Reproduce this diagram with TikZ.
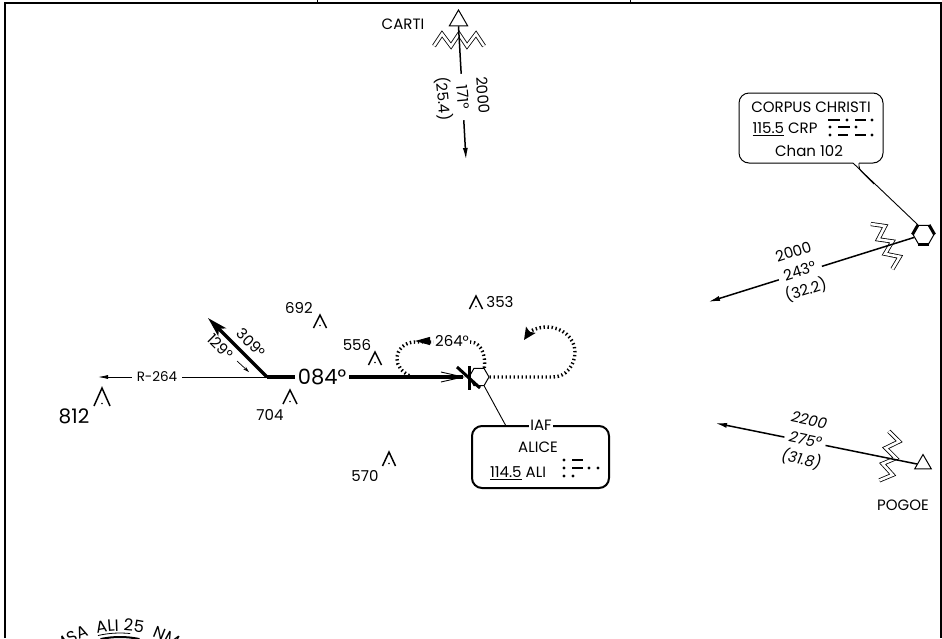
\documentclass[tikz,border=0pt]{standalone}
\usepackage{fontspec}
\setmainfont{Poppins}
\usepackage{tikz}
\usetikzlibrary{arrows.meta,shapes.geometric,decorations.text}
\tikzset{
  leg/.style={line width=1.5pt,-{Latex[length=12pt,width=5pt]}},
  courseline/.style={line width=3.4pt},
  holdline/.style={line width=3.4pt,dash pattern=on 1.4pt off 2.6pt},
  thinline/.style={line width=0.8pt},
  legtext/.style={fill=white,align=center,inner sep=1pt,font=\fontsize{15}{20}\selectfont},
  fixtext/.style={inner sep=0pt,font=\fontsize{15}{17}\selectfont},
  fixhex/.style={draw,line width=1pt,regular polygon,regular polygon sides=6,minimum size=#1,inner sep=0pt},
  fixtri/.style={draw,line width=1pt,regular polygon,regular polygon sides=3,minimum size=#1,inner sep=0pt},
  fixbox/.style={draw,rounded corners=10pt,minimum width=#1},
  morsedash/.style={line width=2.8pt},
  zigzag/.pic={
    \draw[line width=0.8pt,double,double distance=2.6pt] (-25,6) -- (-17,-6) -- (-8,6) -- (0,-6) -- (8,6) -- (17,-6) -- (25,6);
  }
}

\begin{document}
\begin{tikzpicture}[x=1pt,y=-1pt]
    \useasboundingbox (0,0) rectangle (942,638);
    \clip (0,0) rectangle (942,638);

    % frame and header ticks
    \draw[line width=2.4pt] (5,638) -- (5,3) -- (941,3) -- (941,638);
    \draw[line width=1pt] (317,0) -- (317,3);
    \draw[line width=1pt] (630,0) -- (630,3);

    % obstacles
    \foreach \ox/\oy/\ow/\oh in {320/315/6.5/13, 102/388/8/18, 290/390/7/14, 375/352/6.5/13, 476/296/6.5/13, 389/452/6.5/14}{
        \draw[line width=1.5pt] (\ox-\ow,\oy+\oh) -- (\ox,\oy) -- (\ox+\ow,\oy+\oh);
        \fill (\ox,\oy+\oh-2.5) circle (0.9);
    }
    \node[fixtext] (obst692) at (299,308) {692};
    \node[fixtext,font=\fontsize{20}{22}\selectfont] (obst812) at (74,416) {812};
    \node[fixtext] (obst704) at (270,415) {704};
    \node[fixtext] (obst556) at (357,345) {556};
    \node[fixtext] (obst353) at (500,302) {353};
    \node[fixtext] (obst570) at (365,476) {570};

    % CARTI leg
    \pic[rotate=0] at (459,40) {zigzag};
    \node[fixtri=21pt] (carti) at (458.5,20.5) {};
    \coordinate (cartiEnd) at (466,160);
    \draw[leg] (carti.south) -- (cartiEnd);
    \node[legtext,rotate=-85] (cartiText) at (462,97) {2000\\171°\\(25.4)};
    \node[fixtext] (cartiName) at (403,24) {CARTI};

    % Corpus Christi box and leg
    \node[fixbox=144pt,minimum height=70pt,line width=1pt] (crpBox) at (811,128) {};
    \coordinate (tailA) at (853,163);
    \coordinate (tailB) at (859,163);
    \coordinate (tailJoin) at (874,184);
    \node[fixhex=21pt] (crp) at (923.5,234.5) {};
    \draw[white,line width=1.6pt] (tailA) -- (tailB);
    \draw[line width=0.9pt] (tailA) -- (crp.corner 2);
    \draw[line width=0.9pt,rounded corners=3pt] (tailB) -- (859,169) -- (tailJoin);
    \node[fixtext] (crpName) at (811,107) {CORPUS CHRISTI};
    \node[fixtext] (crpFreq) at (785,129) {\underline{115.5} CRP};
    \node[fixtext] (crpChan) at (809,151) {Chan 102};
    \foreach \mx/\my in {847/120, 872/120, 830/127, 856/127, 830/135, 872/135}
        \fill (\mx,\my) circle (1.6);
    \foreach \mx/\ny/\my in {828/840/120, 855/866/120, 838/850/127, 838/848/135, 855/866/135}
        \draw[morsedash] (\mx,\my) -- (\ny,\my);
    \pic[rotate=-64.5] at (887,244) {zigzag};
    \coordinate (crpEnd) at (708,302);
    \draw[leg] (crp) -- (crpEnd);
    \foreach \a/\b in {2/3,6/1,4/5}
        \draw[line width=3pt] (crp.corner \a) -- (crp.corner \b);
    \node[legtext,rotate=18] (crpText) at (800,272) {2000\\243°\\(32.2)};

    % POGOE leg
    \pic[rotate=-101] at (890,457) {zigzag};
    \node[fixtri=19pt,fill=white] (pogoe) at (923,464) {};
    \coordinate (pogoeEnd) at (715,423);
    \draw[leg] (pogoe.west) -- (pogoeEnd);
    \node[legtext,rotate=-11.5,font=\fontsize{15}{20}\selectfont\itshape] (pogoeText) at (805,441) {2200\\275°\\(31.8)};
    \node[fixtext] (pogoeName) at (903,505) {POGOE};

    % radial, feeder course and procedure turn
    \coordinate (turn) at (267,377);
    \coordinate (radialEnd) at (98,377);
    \coordinate (outEnd) at (208,318);
    \coordinate (iafTip) at (465,377);
    \draw[thinline,-{Latex[length=10pt,width=4pt]}] (turn) -- (radialEnd);
    \node[fill=white,inner sep=5pt,font=\fontsize{13.5}{15}\selectfont] (radial) at (157,377) {R-264};
    \draw[line width=3.4pt,-{Stealth[length=20pt,width=11pt,inset=5pt]}] (turn) -- (outEnd);
    \node[fixtext,rotate=-45] (outLabel) at (251,343) {309°};
    \node[fixtext,rotate=-45] (inLabel) at (220.5,346.5) {129°};
    \coordinate (inFrom) at (237,361);
    \coordinate (inTo) at (249,372);
    \draw[line width=0.7pt,-{Stealth[length=6pt,width=3.5pt]}] (inFrom) -- (inTo);
    \draw[courseline,-{Straight Barb[length=22pt,width=10pt,line width=0.9pt]}] (turn) -- (iafTip);
    \node[fill=white,inner sep=2.5pt,font=\fontsize{21}{24}\selectfont] (course) at (322,377) {084°};

    % IAF fix and holds
    \node[fixhex=20pt] (iaf) at (479,377) {};
    \draw[holdline] (iaf.corner 1) .. controls (486,358) and (482,342) .. (470,342) -- (415,342) .. controls (405,342) and (397,349) .. (397,359) .. controls (397,366) and (402,372) .. (410,376);
    \node[fill=white,inner sep=1pt,font=\fontsize{15}{17}\selectfont] (holdLabel) at (452,341) {264°};
    \coordinate (holdFrom) at (431,341);
    \coordinate (holdTo) at (415,341);
    \draw[line width=1pt,-{Triangle[length=15pt,width=8pt]}] (holdFrom) -- (holdTo);
    \coordinate (loopTip) at (524,340);
    \draw[holdline,-{Stealth[length=12pt,width=11pt,inset=2pt]}] (iaf.corner 6) -- (553,377) .. controls (566,377) and (575,365) .. (575,352) .. controls (575,338) and (562,327) .. (547,327) .. controls (538,327) and (530,331) .. (loopTip);
    \draw[line width=3pt] (469,366) -- (469,390);
    \draw[line width=3pt] (457,367) -- (480,388);

    % IAF box
    \node[fixbox=137pt,minimum height=62pt,line width=2pt] (alice) at (540.5,457) {};
    \coordinate (aliceTop) at (506,426);
    \draw[line width=0.9pt] (iaf.corner 5) -- (aliceTop);
    \node[fill=white,inner sep=1.5pt,font=\fontsize{15}{17}\selectfont] (iafLabel) at (541,425) {IAF};
    \node[fixtext] (aliceName) at (538,447) {ALICE};
    \node[fixtext] (aliceFreq) at (518,473) {\underline{114.5} ALI};
    \foreach \mx/\my in {564/460, 564/468, 589/468, 598/468, 564/476, 573/476}
        \fill (\mx,\my) circle (1.6);
    \foreach \my in {460,468}
        \draw[morsedash] (572,\my) -- (583,\my);

    % MSA arc, cut by the lower edge
    \path[decorate,decoration={text along path,text align={center},text={|\fontsize{16.5}{18}\selectfont|MSA}}] ([shift={(120,731)}]143:100pt) arc[start angle=143,end angle=93,radius=100pt];
    \path[decorate,decoration={text along path,text align={center},text={|\fontsize{16.5}{18}\selectfont|ALI 25}}] ([shift={(120,731)}]115:100pt) arc[start angle=115,end angle=65,radius=100pt];
    \path[decorate,decoration={text along path,text align={center},text={|\fontsize{16.5}{18}\selectfont|NM}}] ([shift={(120,731)}]89:100pt) arc[start angle=89,end angle=39,radius=100pt];
    \draw[line width=0.8pt] ([shift={(120,731)}]103:98pt) arc[start angle=103,end angle=84,radius=98pt];
    \draw[line width=2pt] ([shift={(120,731)}]102:94pt) arc[start angle=102,end angle=78,radius=94pt];
\end{tikzpicture}
\end{document}
